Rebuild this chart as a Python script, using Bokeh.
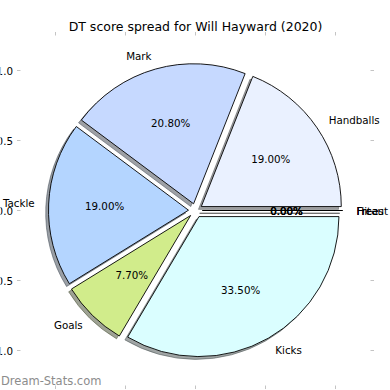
import numpy as np
from bokeh.plotting import figure
from bokeh.models import Range1d, ColumnDataSource
from bokeh.core.properties import value
from bokeh.embed import file_html
from bokeh.resources import INLINE

# ---- data ----
categories = ["Handballs", "Mark", "Tackle", "Goals", "Kicks", "Hitout", "Frees", "Free"]
shares = [19.0, 20.8, 19.0, 7.7, 33.5, 0.0, 0.0, 0.0]
colors = ["#eaf1ff", "#c6d9ff", "#b4d5ff", "#d1ec8b", "#dafeff", "#ffffff", "#ffffff", "#ffffff"]
explode = [0.05, 0.05, 0.05, 0.05, 0.05, 0.05, 0.05, 0.05]
tick_values = [-1.0, -0.5, 0.0, 0.5, 1.0]
tick_labels = ["\u22121.0", "\u22120.5", "0.0", "0.5", "1.0"]
title_text = "DT score spread for Will Hayward (2020)"
watermark_text = "Dream-Stats.com"

# ---- geometry / style ----
W = H = 390
PX = 140.0            # pixels per data unit
LIM = 1.25            # matplotlib axes limits
left_pad, top_pad = 20, 35
x0 = -LIM - left_pad / PX
x1 = x0 + W / PX
y1 = LIM + top_pad / PX
y0 = y1 - H / PX
FONT = value("DejaVu Sans")
FS = "10.3px"
SH = 0.02             # shadow offset
TICK = 3.5 / PX

vals = np.array(shares, dtype=float)
frac = vals / vals.sum()
edges = np.concatenate([[0.0], np.cumsum(frac)]) * 2 * np.pi
a0 = edges[:-1]
a1 = edges[1:]
mid = (a0 + a1) / 2
ex = np.array(explode)
cx = ex * np.cos(mid)
cy = ex * np.sin(mid)

def dim(c, k=0.3):
    c = c.lstrip("#")
    r, g, b = (int(c[i:i + 2], 16) for i in (0, 2, 4))
    return "#%02x%02x%02x" % (int(r * k), int(g * k), int(b * k))

p = figure(width=W, height=H, x_range=Range1d(x0, x1), y_range=Range1d(y0, y1),
           output_backend="svg", toolbar_location=None, min_border=0,
           x_axis_type=None, y_axis_type=None)
p.outline_line_color = None
p.background_fill_color = "white"
p.border_fill_color = "white"

pos = vals > 0
zero = ~pos

src = ColumnDataSource(dict(cx=cx[pos], cy=cy[pos], a0=a0[pos], a1=a1[pos],
                            col=[c for c, k in zip(colors, pos) if k],
                            sh=[dim(c) for c, k in zip(colors, pos) if k],
                            sx=cx[pos] - SH, sy=cy[pos] - SH))
zsrc = ColumnDataSource(dict(xs=cx[zero], ys=cy[zero],
                             xe=cx[zero] + np.cos(a0[zero]), ye=cy[zero] + np.sin(a0[zero]),
                             sxs=cx[zero] - SH, sys=cy[zero] - SH,
                             sxe=cx[zero] + np.cos(a0[zero]) - SH, sye=cy[zero] + np.sin(a0[zero]) - SH))

# shadows
p.wedge(x="sx", y="sy", radius=1.0, start_angle="a0", end_angle="a1", source=src,
        fill_color="sh", fill_alpha=0.5, line_color="sh", line_alpha=0.5, line_width=1)
p.segment(x0="sxs", y0="sys", x1="sxe", y1="sye", source=zsrc,
          line_color="#4c4c4c", line_alpha=0.5, line_width=1)
# wedges
p.wedge(x="cx", y="cy", radius=1.0, start_angle="a0", end_angle="a1", source=src,
        fill_color="col", line_color="black", line_width=0.9)
p.segment(x0="xs", y0="ys", x1="xe", y1="ye", source=zsrc,
          line_color="black", line_width=0.9)

# category labels
lx = cx + 1.1 * np.cos(mid)
ly = cy + 1.1 * np.sin(mid)
lab = ColumnDataSource(dict(x=lx, y=ly, t=categories,
                            al=["left" if v > 0 else "right" for v in lx]))
p.text(x="x", y="y", text="t", text_align="al", text_baseline="middle", source=lab,
       text_font=FONT, text_font_size=FS, text_color="black")

# percentage labels
px_ = cx + 0.6 * np.cos(mid)
py_ = cy + 0.6 * np.sin(mid)
pct = ColumnDataSource(dict(x=px_, y=py_, t=["%.2f%%" % (f * 100) for f in frac]))
p.text(x="x", y="y", text="t", text_align="center", text_baseline="middle", source=pct,
       text_font=FONT, text_font_size=FS, text_color="black")

# tick marks (left / right / top / bottom)
tv = np.array(tick_values)
n = len(tv)
tick_col = "#c4c4c4"
p.segment(x0=[-LIM] * n, y0=tv, x1=[-LIM - TICK] * n, y1=tv, line_color=tick_col, line_width=1)
p.segment(x0=[LIM] * n, y0=tv, x1=[LIM + TICK] * n, y1=tv, line_color=tick_col, line_width=1)
p.segment(x0=tv, y0=[LIM] * n, x1=tv, y1=[LIM + TICK] * n, line_color=tick_col, line_width=1)
p.segment(x0=tv, y0=[-LIM] * n, x1=tv, y1=[-LIM - TICK] * n, line_color=tick_col, line_width=1)

# tick labels (left axis)
p.text(x=[-LIM - 2 * TICK - 0.5 / PX] * n, y=tv, text=tick_labels, text_align="right",
       text_baseline="middle", text_font=FONT, text_font_size=FS, text_color="black")

# title
p.text(x=[0.0], y=[y1 - 26 / PX], text=[title_text], text_align="center", text_baseline="middle",
       text_font=FONT, text_font_size="12.5px", text_color="black")

# watermark
p.text(x=[x0 + 0.5 / PX], y=[y1 - 380 / PX], text=[watermark_text], text_align="left",
       text_baseline="middle", text_font=FONT, text_font_size="11.5px", text_color="#8c8c8c")

open("out.html", "w").write(file_html(p, INLINE))
